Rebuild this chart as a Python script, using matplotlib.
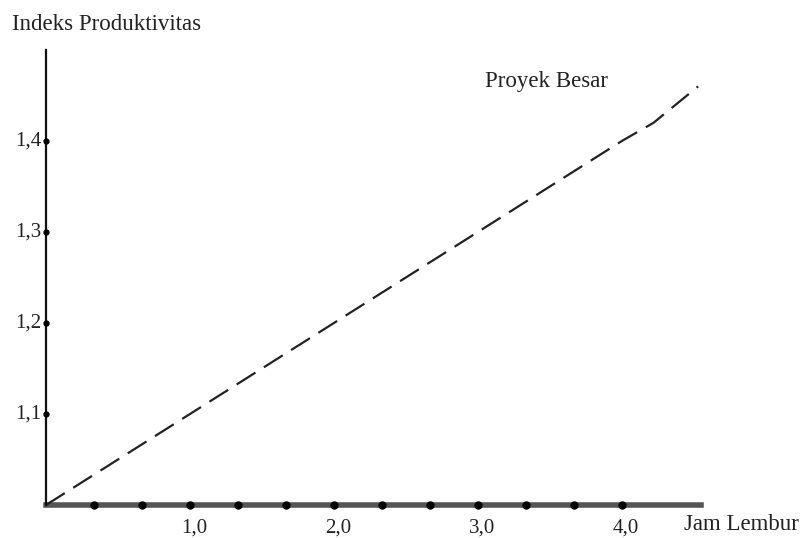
import matplotlib
matplotlib.use("Agg")
import matplotlib.pyplot as plt

# data
jam_lembur = [0.0, 1.0, 2.0, 3.0, 4.0, 4.22, 4.53]
indeks = [1.00, 1.10, 1.20, 1.30, 1.40, 1.42, 1.46]

x_dots = [i / 3 for i in range(1, 13)]
x_labels = {1.0: "1,0", 2.0: "2,0", 3.0: "3,0", 4.0: "4,0"}
y_ticks = [1.1, 1.2, 1.3, 1.4]
y_labels = ["1,1", "1,2", "1,3", "1,4"]

plt.rcParams['font.family'] = ['Liberation Serif', 'DejaVu Serif']

fig = plt.figure(figsize=(8.07, 5.38), dpi=100)
ax = fig.add_axes([46 / 807, 33 / 538, 655 / 807, 455 / 538])
ax.set_xlim(0, 4.55)
ax.set_ylim(1.0, 1.5)

ax.plot(jam_lembur, indeks, color='#222222', lw=1.6, dashes=(10, 4.5),
        clip_on=False)

for s in ['top', 'right']:
    ax.spines[s].set_visible(False)
ax.spines['left'].set_linewidth(1.6)
ax.spines['left'].set_color('#111111')
ax.spines['bottom'].set_linewidth(4)
ax.spines['bottom'].set_color('#555555')
ax.spines['bottom'].set_zorder(1)

ax.set_xticks([])
ax.set_yticks([])

# tick dots on the axes
ax.plot(x_dots, [1.0] * len(x_dots), 'o', ms=5, color='black',
        clip_on=False, zorder=5)
ax.plot([0] * len(y_ticks), y_ticks, 'o', ms=3.5, color='black',
        clip_on=False, zorder=5)

for xv, lab in x_labels.items():
    ax.text(xv + 0.03, 0.985, lab, ha='center', va='top', fontsize=15,
            color='#222222')
for yv, lab in zip(y_ticks, y_labels):
    ax.text(-0.03, yv, lab, ha='right', va='center', fontsize=15,
            color='#222222')

fig.text(12 / 807, 1 - 24 / 538, "Indeks Produktivitas", ha='left',
         va='center', fontsize=16.5, color='#222222')
ax.text(3.05, 1.465, "Proyek Besar", ha='left', va='center', fontsize=16.5,
        color='#222222')
fig.text(684 / 807, 1 - 525 / 538, "Jam Lembur", ha='left', va='center',
         fontsize=16.5, color='#222222')

fig.savefig("out.png", dpi=100)
